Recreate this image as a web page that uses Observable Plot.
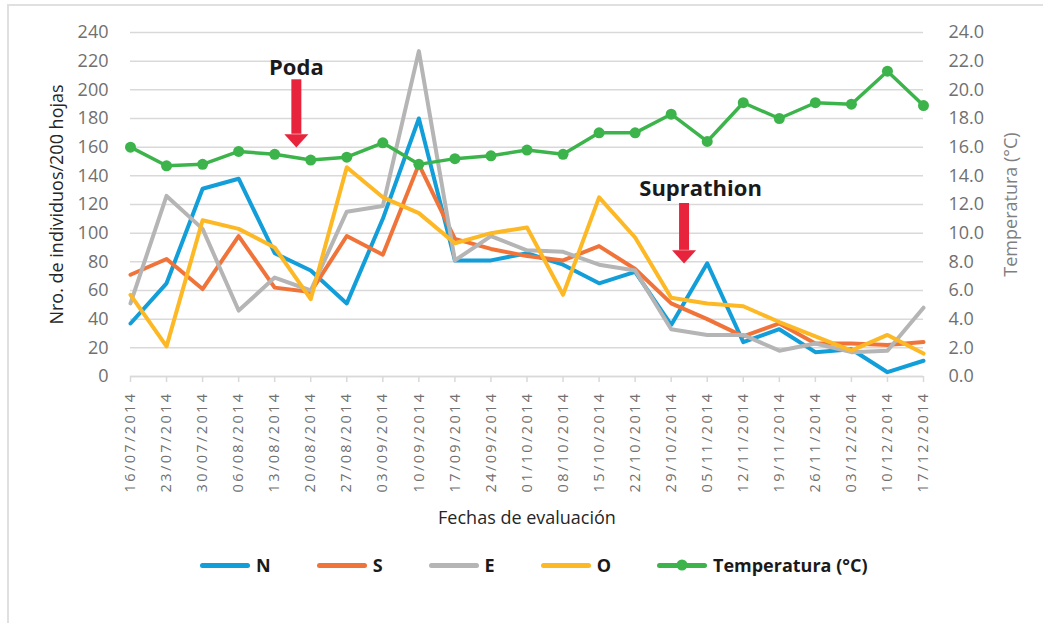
<!DOCTYPE html>
<html><head><meta charset="utf-8">
<script src="https://cdn.jsdelivr.net/npm/d3@7"></script>
<script src="https://cdn.jsdelivr.net/npm/@observablehq/plot@0.6"></script>
<style>
body{margin:0;background:#fff;font-family:"Open Sans",sans-serif;}
#wrap{position:relative;width:1043px;height:623px;overflow:hidden;background:#fff;}
#border{position:absolute;left:7px;top:4px;width:1100px;height:700px;border-left:2px solid #e0e0e0;border-top:2px solid #e0e0e0;}
#chart{position:absolute;left:0;top:0;}
#legend{position:absolute;left:200px;top:553px;display:flex;align-items:center;gap:46px;font-weight:700;font-size:18px;color:#1a1a1a;font-family:"Open Sans",sans-serif;}
.item{display:flex;align-items:center;gap:6px;}
.sw{position:relative;width:50px;height:5px;border-radius:3px;}
.sw .dot{position:absolute;left:50%;top:50%;width:11px;height:11px;border-radius:50%;transform:translate(-50%,-50%);}
</style></head>
<body><div id="wrap"><div id="border"></div><div id="chart"></div><div id="legend"></div></div>
<script>
// ---- data ----
const fechas = ["16/07/2014","23/07/2014","30/07/2014","06/08/2014","13/08/2014","20/08/2014","27/08/2014","03/09/2014","10/09/2014","17/09/2014","24/09/2014","01/10/2014","08/10/2014","15/10/2014","22/10/2014","29/10/2014","05/11/2014","12/11/2014","19/11/2014","26/11/2014","03/12/2014","10/12/2014","17/12/2014"];
const N = [37, 65, 131, 138, 86, 74, 51, 110, 180, 81, 81, 86, 78, 65, 73, 36, 79, 24, 33, 17, 19, 3, 11];
const S = [71, 82, 61, 98, 62, 59, 98, 85, 148, 96, 89, 84, 81, 91, 75, 51, 40, 28, 37, 23, 23, 22, 24];
const E = [51, 126, 103, 46, 69, 60, 115, 119, 227, 81, 98, 88, 87, 78, 74, 33, 29, 29, 18, 23, 17, 18, 48];
const O = [57, 21, 109, 103, 90, 54, 146, 125, 114, 93, 100, 104, 57, 125, 97, 55, 51, 49, 38, 28, 18, 29, 16];
const temperatura = [16.0, 14.7, 14.8, 15.7, 15.5, 15.1, 15.3, 16.3, 14.8, 15.2, 15.4, 15.8, 15.5, 17.0, 17.0, 18.3, 16.4, 19.1, 18.0, 19.1, 19.0, 21.3, 18.9];
const yTicks = [0,20,40,60,80,100,120,140,160,180,200,220,240];
const tempTicks = [0,2,4,6,8,10,12,14,16,18,20,22,24];
const serieNames = ["N","S","E","O"];
const tempName = "Temperatura (°C)";
const leftTitle = "Nro. de individuos/200 hojas";
const rightTitle = "Temperatura (°C)";
const xTitle = "Fechas de evaluación";
// annotations: label, text date/value, arrow date, arrow top/base values (left axis units)
const anotaciones = [
  {label:"Poda", textDate:"2014-08-17T05:00Z", textY:215.6, arrowDate:"2014-08-17T05:00Z", shaftTop:207, headBase:169},
  {label:"Suprathion", textDate:"2014-11-03T17:00Z", textY:131, arrowDate:"2014-10-31T12:00Z", shaftTop:120.7, headBase:88}
];

// ---- build ----
const colors = {N:"#129ed9", S:"#f0743a", E:"#b5b5b5", O:"#fdb825", T:"#3cb44b"};
const parse = d3.utcParse("%d/%m/%Y");
const dates = fechas.map(parse);
const seriesValues = {N, S, E, O};
const scaleT = 10; // 24.0 °C <-> 240
const tempRows = temperatura.map((t,i)=>({date:dates[i], t}));
const anot = anotaciones.map(a=>({...a, textDate:new Date(a.textDate), arrowDate:new Date(a.arrowDate)}));

const arrowHead = {draw(ctx, size){ const h=Math.sqrt(size/Math.PI); ctx.moveTo(-h,0); ctx.lineTo(h,0); ctx.lineTo(0,1.1*h); ctx.closePath(); }};
const red = "#e8243c";
const tickGray = "#707070";

const chart = Plot.plot({
  width:1043, height:545,
  marginTop:32, marginBottom:169, marginLeft:130, marginRight:120,
  style:{fontFamily:"Open Sans, sans-serif", background:"transparent", overflow:"visible"},
  x:{type:"utc", domain:[dates[0], dates[dates.length-1]]},
  y:{domain:[0,240]},
  marks:[
    Plot.gridY(yTicks, {stroke:"#d9d9d9", strokeOpacity:1, strokeWidth:1.5}),
    Plot.ruleY([0], {stroke:"#d9d9d9", strokeWidth:1.5}),
    Plot.axisX(dates, {tickFormat:d3.utcFormat("%d/%m/%Y"), tickRotate:-90, tickSize:6, tickPadding:9, stroke:"#d9d9d9", strokeWidth:1.5, fill:tickGray, fontSize:14.5, label:null}),
    Plot.axisY(yTicks, {anchor:"left", tickSize:0, tickPadding:22, fontSize:18, fill:tickGray, label:null}),
    Plot.axisY(tempTicks.map(t=>t*scaleT), {anchor:"right", tickSize:0, tickPadding:25, tickFormat:d=>(d/scaleT).toFixed(1), fontSize:18, fill:tickGray, label:null}),
    ...serieNames.map(k => Plot.lineY(seriesValues[k], {x:(d,i)=>dates[i], y:d=>d, stroke:colors[k], strokeWidth:4})),
    Plot.line(tempRows, {x:"date", y:d=>d.t*scaleT, stroke:colors.T, strokeWidth:3.5}),
    Plot.dot(tempRows, {x:"date", y:d=>d.t*scaleT, r:5.5, fill:colors.T}),
    Plot.ruleX(anot, {x:"arrowDate", y1:"shaftTop", y2:"headBase", stroke:red, strokeWidth:10}),
    Plot.dot(anot, {x:"arrowDate", y:"headBase", r:12, symbol:arrowHead, fill:red}),
    Plot.text(anot, {x:"textDate", y:"textY", text:"label", fontWeight:700, fontSize:22, fill:"#1a1a1a"}),
    Plot.text([leftTitle], {frameAnchor:"left", textAnchor:"middle", dx:-73, rotate:-90, fontSize:18, fill:"#262626"}),
    Plot.text([rightTitle], {frameAnchor:"right", textAnchor:"middle", dx:88, rotate:-90, fontSize:18, fill:"#7f7f7f"}),
    Plot.text([xTitle], {frameAnchor:"bottom", dy:147, fontSize:18, fill:"#262626"})
  ]
});
d3.select(chart).selectAll('g[aria-label="x-axis tick label"] text').attr("letter-spacing","2.4px");
document.getElementById("chart").appendChild(chart);

// legend
const legend = document.getElementById("legend");
[...serieNames.map(k=>({name:k, color:colors[k], dot:false})), {name:tempName, color:colors.T, dot:true}].forEach(it=>{
  const el = document.createElement("div"); el.className="item";
  const sw = document.createElement("div"); sw.className="sw"; sw.style.background=it.color;
  if(it.dot){ const d=document.createElement("div"); d.className="dot"; d.style.background=it.color; sw.appendChild(d); }
  const tx = document.createElement("span"); tx.textContent=it.name;
  el.appendChild(sw); el.appendChild(tx); legend.appendChild(el);
});
</script>
</body></html>
